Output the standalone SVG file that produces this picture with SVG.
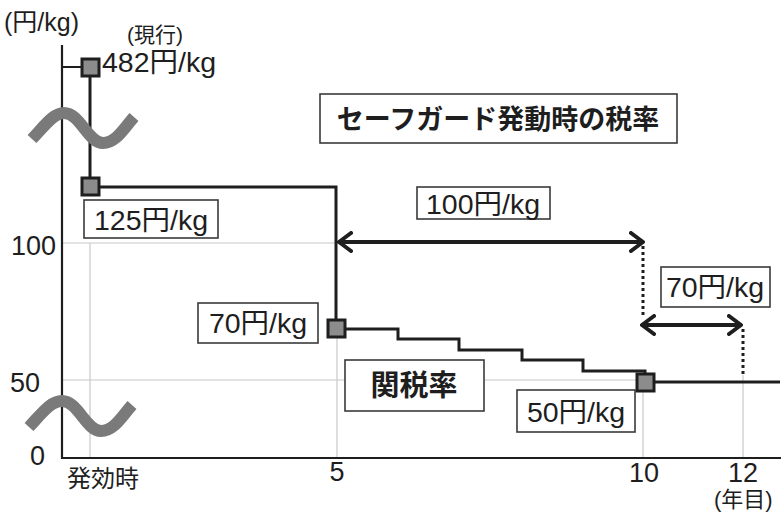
<svg xmlns="http://www.w3.org/2000/svg" width="782" height="512" viewBox="0 0 782 512">
<defs>
<style>
text{font-family:"Liberation Sans","Noto Sans CJK JP",sans-serif;fill:#1e1e1e}
.lbl{font-size:28.5px}
.ax{font-size:27px}
.ttl{font-size:27px;font-weight:bold}
.box{fill:#fff;stroke:#3a3a3a;stroke-width:1.6}
.grid{stroke:#c8c8c8;stroke-width:1.2;fill:none}
.data{stroke:#1e1e1e;stroke-width:3;fill:none}
.pt{fill:#8c8c8c;stroke:#1e1e1e;stroke-width:3}
.arr{stroke:#1e1e1e;stroke-width:4;fill:none}
.dot{stroke:#1e1e1e;stroke-width:3;stroke-dasharray:3 3;fill:none}
.wave{stroke:#7a7a7a;stroke-width:12;fill:none}
</style>
<marker id="chev" viewBox="0 0 16 22" refX="14" refY="11" markerWidth="16" markerHeight="22" markerUnits="userSpaceOnUse" orient="auto-start-reverse">
<path d="M2,2 L14,11 L2,20" stroke="#1e1e1e" stroke-width="4" fill="none" stroke-linecap="round" stroke-linejoin="round"/>
</marker>
</defs>
<rect width="782" height="512" fill="#fff"/>

<g id="grid">
<line class="grid" x1="62" y1="243" x2="643" y2="243"/>
<line class="grid" x1="62" y1="380" x2="643" y2="380"/>
<line class="grid" x1="90" y1="243" x2="90" y2="458"/>
<line class="grid" x1="337" y1="338" x2="337" y2="458"/>
<line class="grid" x1="643" y1="392" x2="643" y2="458"/>
<line class="grid" x1="743" y1="375" x2="743" y2="458"/>
</g>

<g id="axes">
<line x1="62" y1="45" x2="62" y2="459" stroke="#1e1e1e" stroke-width="2.2"/>
<line x1="61" y1="458" x2="781" y2="458" stroke="#1e1e1e" stroke-width="2.2"/>
<text x="4" y="31" style="font-size:25px">(円/kg)</text>
<text class="ax" x="11" y="255">100</text>
<text class="ax" x="10" y="392">50</text>
<text class="ax" x="30" y="465">0</text>
<text x="67" y="487" style="font-size:24px">発効時</text>
<text class="ax" x="337" y="481" text-anchor="middle">5</text>
<text class="ax" x="644" y="482" text-anchor="middle">10</text>
<text class="ax" x="743" y="482" text-anchor="middle">12</text>
<text x="714" y="507" style="font-size:22px">(年目)</text>
</g>

<g id="connectors">
<line class="data" x1="62" y1="67" x2="82" y2="67" style="stroke-width:2"/>
<polyline class="data" points="90,68 90,187 336,187 336,329 398,329 398,339 459,339 459,350 522,350 522,360 583,360 583,371 645,371 645,382 780,382"/>
<line class="arr" x1="339" y1="242" x2="643" y2="242" marker-start="url(#chev)" marker-end="url(#chev)"/>
<line class="dot" x1="643" y1="246" x2="643" y2="318"/>
<line class="arr" x1="642" y1="325" x2="741" y2="325" marker-start="url(#chev)" marker-end="url(#chev)"/>
<line class="dot" x1="743" y1="329" x2="743" y2="376"/>
</g>

<g id="breaks">
<path class="wave" d="M32,139 C46,124 54,113 64,113 C80,113 88,143 103,143 C116,143 124,128 134,117"/>
<path class="wave" d="M29,427 C43,412 51,401 62,401 C78,401 86,431 101,431 C114,431 122,416 132,405"/>
</g>

<g id="p482"><rect class="pt" x="82" y="59" width="17" height="17"/>
<text x="127" y="42" style="font-size:21px">(現行)</text>
<text class="lbl" x="102" y="72">482円/kg</text></g>

<g id="p125"><rect class="pt" x="82" y="178" width="17" height="17"/>
<rect class="box" x="84" y="200" width="134" height="38"/>
<text class="lbl" x="151" y="230" text-anchor="middle">125円/kg</text></g>

<g id="p70"><rect class="pt" x="328" y="320" width="17" height="17"/>
<rect class="box" x="198" y="303" width="120" height="40"/>
<text class="lbl" x="258" y="333" text-anchor="middle">70円/kg</text></g>

<g id="p50"><rect class="pt" x="637" y="374" width="17" height="17"/>
<rect class="box" x="517" y="390" width="118" height="42"/>
<text class="lbl" x="576" y="422" text-anchor="middle">50円/kg</text></g>

<g id="d100"><rect class="box" x="417" y="187" width="133" height="32"/>
<text class="lbl" x="483" y="214" text-anchor="middle">100円/kg</text></g>

<g id="d70"><rect class="box" x="661" y="267" width="109" height="40"/>
<text class="lbl" x="715" y="297" text-anchor="middle">70円/kg</text></g>

<g id="title"><rect class="box" x="320" y="94" width="357" height="49"/>
<text class="ttl" x="498" y="129" text-anchor="middle">セーフガード発動時の税率</text></g>

<g id="rate"><rect class="box" x="345" y="360" width="139" height="51"/>
<text class="ttl" x="414" y="396" text-anchor="middle" style="font-size:29px">関税率</text></g>
</svg>
